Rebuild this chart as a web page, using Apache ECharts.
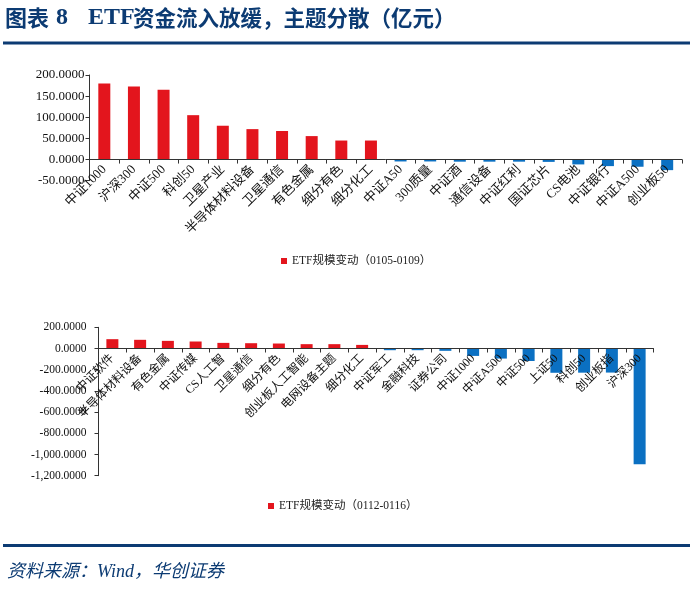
<!DOCTYPE html>
<html>
<head>
<meta charset="utf-8">
<script src="https://cdn.jsdelivr.net/npm/echarts@6/dist/echarts.min.js"></script>
<style>
html,body{margin:0;padding:0;background:#fff;}
#c{width:693px;height:593px;}
</style>
</head>
<body>
<div id="c"></div>
<script>
// ---- Data ----
var cats1 = ['中证1000','沪深300','中证500','科创50','卫星产业','半导体材料设备','卫星通信','有色金属','细分有色','细分化工','中证A50','300质量','中证酒','通信设备','中证红利','国证芯片','CS电池','中证银行','中证A500','创业板50'];
var vals1 = [180,173,165,105,80,72,67.5,55.5,45,45,-4.5,-4.5,-5,-5,-5,-5.5,-11.5,-15.5,-17,-25];
var cats2 = ['中证软件','半导体材料设备','有色金属','中证传媒','CS人工智','卫星通信','细分有色','创业板人工智能','电网设备主题','细分化工','中证军工','金融科技','证券公司','中证1000','中证A500','中证500','上证50','科创50','创业板指','沪深300'];
var vals2 = [88,82,72,66,53,50,47,41,41,34,-16,-16,-22,-70,-95,-118,-229,-228,-227,-1092];
var name1 = 'ETF规模变动（0105-0109）';
var name2 = 'ETF规模变动（0112-0116）';
var yTicks1 = {min:-50, max:200, interval:50};
var yTicks2 = {min:-1200, max:200, interval:200};

var RED = '#e3151d', BLUE = '#0b70c2', NAVY = '#0c3b73';
var FONT = '"Liberation Serif","Noto Sans CJK SC",serif';
var H = 593;

var g1 = {left:89.5, right:11, top:75, bottom:412.3};
var g2 = {left:98.5, right:39.5, top:327.3, bottom:117.3};

// place the category axis at the zero line of its value axis
function zeroOffset(g, t){
  var h = H - g.top - g.bottom;
  return -h * (0 - t.min) / (t.max - t.min);
}

function fmt(v){
  return v.toLocaleString('en-US',{minimumFractionDigits:4,maximumFractionDigits:4});
}
function colored(arr){
  return arr.map(function(v){return {value:v, itemStyle:{color: v>=0?RED:BLUE}};});
}

var axisLineStyle = {color:'#333', width:1};

var chart = echarts.init(document.getElementById('c'));
chart.setOption({
  animation:false,
  backgroundColor:'#fff',
  grid:[g1, g2],
  xAxis:[
    {type:'category', gridIndex:0, data:cats1, position:'bottom', offset:zeroOffset(g1, yTicks1), z:10,
     axisLine:{onZero:false, lineStyle:axisLineStyle},
     axisTick:{show:true, length:4, inside:false, lineStyle:axisLineStyle},
     axisLabel:{rotate:45, interval:0, margin:8, fontSize:13, color:'#111', fontFamily:FONT}},
    {type:'category', gridIndex:1, data:cats2, position:'bottom', offset:zeroOffset(g2, yTicks2), z:10,
     axisLine:{onZero:false, lineStyle:axisLineStyle},
     axisTick:{show:true, length:4, lineStyle:axisLineStyle},
     axisLabel:{rotate:45, interval:0, margin:8, fontSize:12, color:'#111', fontFamily:FONT}}
  ],
  yAxis:[
    {type:'value', gridIndex:0, min:yTicks1.min, max:yTicks1.max, interval:yTicks1.interval,
     splitLine:{show:false},
     axisLine:{show:true, lineStyle:axisLineStyle},
     axisTick:{show:true, length:4, lineStyle:axisLineStyle},
     axisLabel:{margin:5, fontSize:13, color:'#111', fontFamily:FONT, formatter:fmt}},
    {type:'value', gridIndex:1, min:yTicks2.min, max:yTicks2.max, interval:yTicks2.interval,
     splitLine:{show:false},
     axisLine:{show:true, lineStyle:axisLineStyle},
     axisTick:{show:true, length:4, lineStyle:axisLineStyle},
     axisLabel:{margin:12, fontSize:11.5, color:'#111', fontFamily:FONT, formatter:fmt}}
  ],
  legend:[
    {data:[name1], left:281, top:254, padding:0, itemWidth:6, itemHeight:6, icon:'rect',
     textStyle:{fontSize:11.5, color:'#222', fontFamily:FONT, lineHeight:14}},
    {data:[name2], left:268, top:499, padding:0, itemWidth:6, itemHeight:6, icon:'rect',
     textStyle:{fontSize:11.5, color:'#222', fontFamily:FONT, lineHeight:14}}
  ],
  series:[
    {name:name1, type:'bar', xAxisIndex:0, yAxisIndex:0, data:colored(vals1), barWidth:12, color:RED, z:2},
    {name:name2, type:'bar', xAxisIndex:1, yAxisIndex:1, data:colored(vals2), barWidth:12, color:RED, z:2}
  ],
  graphic:[
    {type:'text', left:5, top:7, style:{text:'图表', font:'bold 22px "Noto Sans CJK SC"', fill:NAVY}},
    {type:'text', left:56, top:6, style:{text:'8', font:'bold 24px "Liberation Serif"', fill:NAVY}},
    {type:'text', left:88, top:6, style:{text:'ETF', font:'bold 24px "Liberation Serif"', fill:NAVY}},
    {type:'text', left:133, top:7, style:{text:'资金流入放缓，主题分散（亿元）', font:'bold 21.5px "Noto Sans CJK SC"', fill:NAVY}},
    {type:'rect', shape:{x:3, y:41.5, width:687, height:3}, style:{fill:NAVY}},
    {type:'rect', shape:{x:3, y:544, width:687, height:3}, style:{fill:NAVY}},
    {type:'text', left:7, top:563, style:{text:'资料来源：Wind，华创证券', font:'italic 18px "Liberation Serif","Noto Sans CJK SC"', fill:NAVY}}
  ]
});
</script>
</body>
</html>
